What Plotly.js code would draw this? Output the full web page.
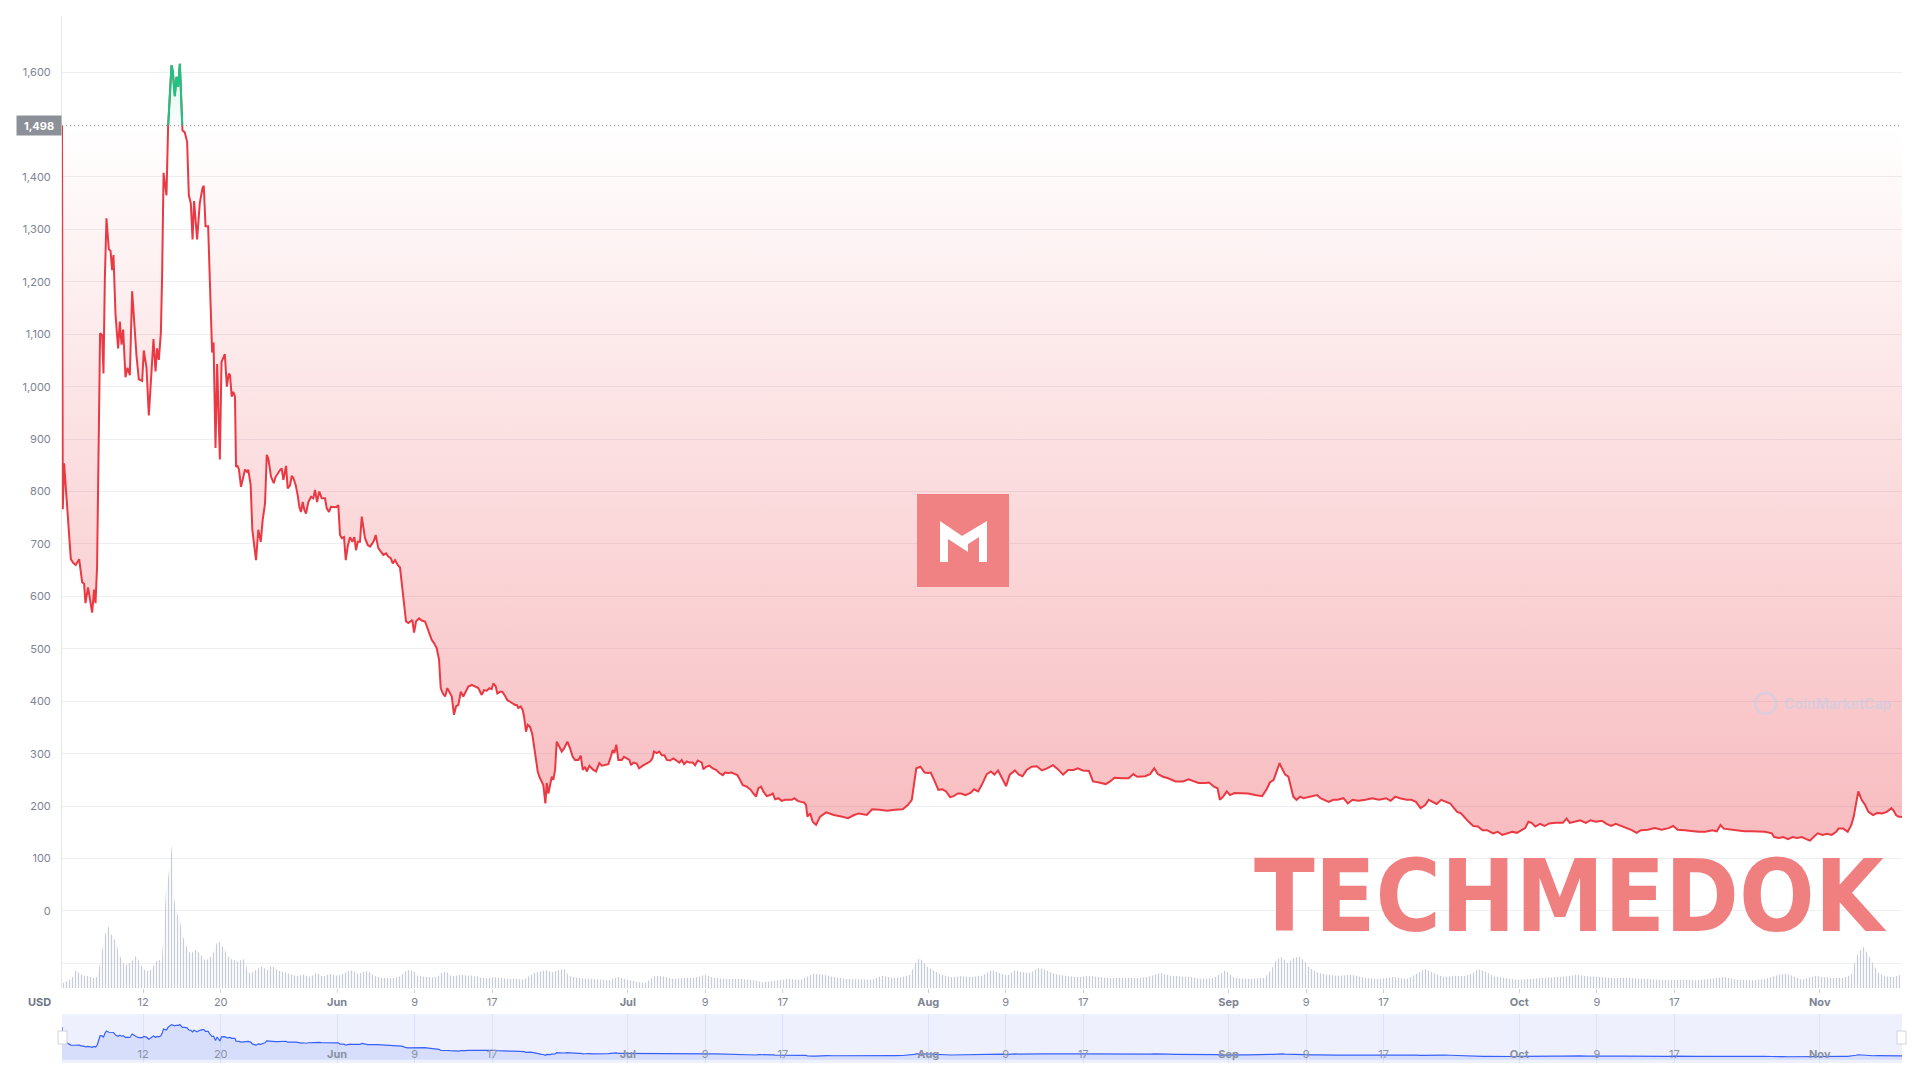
<!DOCTYPE html>
<html>
<head>
<meta charset="utf-8">
<script src="https://cdn.plot.ly/plotly-3.0.1.min.js"></script>
<style>
html,body{margin:0;padding:0;background:#ffffff;}
#chart{width:1920px;height:1080px;}
</style>
</head>
<body>
<div id="chart"></div>
<script>
// ---------------- DATA ----------------
const seriesStart = [2021, 4, 1]; // day 0 = 1 May 2021 (UTC)
const refPrice = 1498;            // reference (open) price shown in the tag

// days since 1 May, price in USD
const priceDays = [
 2.62,2.70,2.84,3.08,3.53,3.77,4.04,4.39,4.70,4.90,
 5.04,5.31,5.56,5.73,5.93,6.08,6.24,6.42,6.55,6.76,
 6.90,7.04,7.21,7.45,7.63,7.79,7.93,8.14,8.41,8.59,
 8.76,8.93,9.17,9.38,9.62,9.86,10.06,10.31,10.55,10.89,
 11.06,11.34,11.58,11.86,12.06,12.27,12.43,12.61,12.82,12.95,
 13.10,13.40,13.57,13.92,14.05,14.26,14.44,14.60,14.78,15.05,
 15.29,15.53,15.71,15.91,16.09,16.25,16.56,16.84,17.12,17.25,
 17.43,17.70,17.87,18.11,18.26,18.46,18.63,18.91,19.08,19.42,
 19.63,19.83,19.96,20.13,20.30,20.47,20.58,20.71,20.89,21.09,
 21.33,21.51,21.68,21.85,22.09,22.26,22.47,22.64,22.88,23.13,
 23.33,23.57,23.75,23.91,24.19,24.47,24.67,24.88,25.12,25.29,
 25.46,25.74,25.91,26.15,26.33,26.49,26.74,26.94,27.11,27.28,
 27.46,27.63,27.80,28.04,28.32,28.55,28.73,28.94,29.17,29.42,
 29.76,29.94,30.17,30.38,30.62,30.90,31.13,31.31,31.49,31.72,
 31.90,32.10,32.34,32.58,32.79,32.96,33.14,33.37,33.55,33.71,
 33.89,34.17,34.41,34.64,34.82,34.99,35.26,35.54,35.78,36.06,
 36.29,36.54,36.75,36.99,37.26,37.50,37.68,37.91,38.12,38.36,
 38.53,38.77,38.95,39.15,39.46,39.74,40.08,40.42,40.77,41.04,
 41.29,41.53,41.70,41.91,42.15,42.38,42.66,42.84,43.07,43.28,
 43.52,43.77,44.03,44.28,44.55,44.90,45.24,45.58,45.93,46.17,
 46.45,46.72,46.96,47.13,47.38,47.54,47.82,48.06,48.34,48.58,
 48.85,49.13,49.37,49.55,49.71,49.96,50.16,50.30,50.50,50.68,
 50.92,51.16,51.36,51.54,51.71,51.88,52.13,52.29,52.50,52.64,
 52.81,52.98,53.16,53.32,53.50,53.67,53.94,54.19,54.43,54.77,
 55.05,55.32,55.56,55.90,56.15,56.36,56.59,56.77,57.04,57.39,
 57.73,58.07,58.32,58.66,59.00,59.25,59.45,59.62,59.82,60.03,
 60.38,60.62,60.90,61.17,61.34,61.58,61.93,62.17,62.55,62.96,
 63.30,63.54,63.71,63.99,64.26,64.51,64.78,65.03,65.37,65.71,
 66.06,66.33,66.57,66.81,67.09,67.36,67.71,67.95,68.22,68.46,
 68.64,68.80,69.08,69.42,69.77,70.12,70.45,70.80,71.04,71.38,
 71.73,72.07,72.31,72.59,72.87,73.28,73.69,73.96,74.24,74.48,
 74.76,74.99,75.34,75.69,75.96,76.20,76.54,76.89,77.23,77.57,
 77.93,78.19,78.54,78.88,79.19,79.40,79.54,79.82,80.09,80.43,
 80.67,80.85,81.47,82.26,83.04,83.73,84.35,84.87,85.67,86.21,
 87.00,87.78,88.57,89.37,89.90,90.31,90.58,90.78,91.21,91.63,
 91.99,92.26,92.68,93.05,93.47,93.85,94.26,94.63,95.06,95.42,
 95.84,96.37,96.74,97.15,97.52,98.05,98.47,98.84,99.22,99.63,
 100.04,100.42,100.95,101.37,101.73,102.16,102.68,103.21,103.74,104.27,
 104.89,105.41,105.92,106.44,107.01,107.43,107.96,108.59,109.01,109.64,
 110.32,110.78,111.22,112.02,112.69,113.17,113.58,114.38,114.90,115.32,
 115.70,116.23,116.76,117.54,118.31,118.86,119.38,119.91,120.54,120.99,
 121.49,121.86,122.10,122.44,122.81,123.14,123.61,124.32,125.03,125.74,
 126.46,126.93,127.26,127.65,127.98,128.26,128.50,128.84,129.17,129.44,
 129.68,130.01,130.38,130.72,131.20,131.67,132.14,132.48,132.86,133.33,
 133.80,134.27,134.85,135.31,135.79,136.41,137.12,137.83,138.53,139.26,
 139.72,140.20,140.67,141.38,141.86,142.33,142.81,143.28,143.65,143.99,
 144.47,144.93,145.41,145.88,146.26,146.59,146.98,147.31,147.78,148.25,
 148.73,149.20,149.68,150.29,150.76,151.24,151.71,152.28,152.75,153.23,
 153.60,153.94,154.27,154.65,155.13,155.60,156.08,156.78,157.49,157.88,
 158.21,158.68,159.30,159.87,160.35,160.91,161.52,162.00,162.47,162.95,
 163.57,164.14,164.61,165.09,165.56,166.26,166.97,167.69,168.40,168.87,
 169.35,170.06,170.77,171.49,172.19,172.91,173.38,173.76,174.09,174.80,
 175.51,176.22,176.94,177.65,178.35,179.06,179.30,179.77,180.25,180.72,
 181.20,181.68,182.15,182.61,183.00,183.47,183.80,184.28,184.75,185.23,
 185.70,185.94,186.42,186.89,187.26,187.51,187.74,187.98,188.32,188.69,
 189.02,189.50,189.97,190.45,190.92,191.40,191.64,191.87,192.11,192.49
];
const priceValues = [
 1498,766,854,788,671,664,660,671,627,624,
 587,617,587,569,613,587,657,912,1102,1098,
 1025,1204,1321,1262,1259,1222,1251,1138,1073,1124,
 1080,1109,1018,1036,1022,1182,1117,1058,1014,1011,
 1069,1036,945,1022,1091,1029,1073,1051,1102,1211,
 1408,1365,1496,1613,1602,1554,1591,1572,1616,1489,
 1485,1467,1365,1350,1281,1354,1281,1350,1379,1383,
 1306,1306,1189,1065,1084,883,1043,861,1047,1062,
 1000,1025,1022,981,990,981,847,850,841,809,
 828,842,838,841,812,727,695,669,727,704,
 746,777,870,863,828,816,828,835,841,844,
 822,849,806,812,830,826,812,793,771,761,
 780,765,758,780,790,787,803,780,800,787,
 787,768,761,771,770,770,774,717,711,713,
 669,695,713,704,713,688,704,704,752,733,
 711,698,695,701,707,717,692,685,679,682,
 676,673,663,669,660,655,625,590,552,549,
 552,555,531,552,558,554,552,533,517,510,
 501,479,425,415,409,425,415,409,374,390,
 393,418,409,418,428,431,428,425,412,421,
 420,425,423,434,428,415,418,418,410,402,
 399,396,393,393,387,390,383,371,342,355,
 351,336,313,285,266,256,247,240,205,244,
 224,237,256,250,269,323,313,304,310,323,
 310,294,288,288,296,269,275,266,277,270,
 266,282,277,278,280,294,307,301,317,288,
 288,294,291,288,278,283,281,272,277,281,
 285,291,304,301,304,297,297,288,287,291,
 287,283,288,280,285,283,283,278,287,285,
 283,270,275,277,272,269,263,259,264,263,
 264,261,259,250,240,237,231,224,218,234,
 237,228,219,221,224,213,215,210,212,212,
 212,215,210,208,207,202,180,186,170,164,
 174,180,188,183,180,177,183,186,183,194,
 193,191,193,194,202,212,247,272,275,264,
 263,264,247,231,232,228,217,219,224,224,
 221,225,232,228,240,261,266,260,268,253,
 238,260,268,260,257,269,275,276,268,272,
 278,270,260,269,269,272,268,267,247,245,
 242,247,254,253,253,261,256,257,261,272,
 261,256,253,247,247,251,247,244,244,245,
 237,234,212,218,228,221,225,224,224,221,
 219,232,245,250,269,282,272,260,256,234,
 218,212,218,215,217,219,221,215,212,208,
 212,212,215,205,212,210,212,215,212,215,
 210,218,215,212,212,208,196,202,212,208,
 204,212,208,205,196,189,186,179,170,162,
 161,154,154,148,151,145,148,151,149,154,
 158,170,168,161,166,162,167,168,168,176,
 168,170,173,168,173,170,172,166,162,166,
 162,158,154,149,154,155,158,155,158,162,
 155,154,152,151,151,154,152,164,157,155,
 154,152,152,151,151,148,141,139,141,137,
 141,139,141,137,134,143,148,145,147,145,
 151,157,157,151,164,180,205,228,212,202,
 189,183,187,186,189,196,191,183,180,179
];

// trading volume (relative units), days since 1 May
const volumeDays = [
 2.59,3.10,3.62,4.07,4.41,4.82,5.34,5.85,6.27,6.54,
 6.78,7.06,7.40,7.64,7.92,8.19,8.43,8.78,9.12,9.40,
 9.71,9.98,10.26,10.50,10.84,11.19,11.53,11.88,12.22,12.56,
 12.91,13.15,13.35,13.53,13.69,13.84,14.01,14.18,14.39,14.59,
 14.80,15.08,15.35,15.59,15.90,16.17,16.45,16.73,17.04,17.38,
 17.72,18.07,18.31,18.58,18.85,19.13,19.37,19.62,19.89,20.16,
 20.44,20.71,20.99,21.27,21.51,21.74,22.09,22.43,22.78,23.13,
 23.47,23.81,24.16,24.50,24.84,25.19,25.53,25.87,26.22,26.56,
 26.90,27.25,27.59,27.94,28.29,28.63,28.97,29.32,29.66,30.00,
 30.35,30.69,31.03,31.38,31.72,32.06,32.41,32.75,33.10,33.44,
 33.79,34.13,34.48,34.82,35.16,35.51,35.85,36.19,36.54,36.88,
 37.22,37.57,37.91,38.26,38.61,38.95,39.29,39.64,39.98,40.32,
 40.67,41.01,41.35,41.70,42.04,42.38,42.73,43.07,43.42,43.77,
 44.11,44.45,44.80,45.14,45.48,45.83,46.17,46.51,46.86,47.20,
 47.54,47.89,48.23,48.57,48.93,49.27,49.61,49.96,50.30,50.64,
 50.99,51.33,51.67,52.51,53.29,53.93,54.46,54.98,55.93,56.99,
 58.04,59.09,60.04,60.67,61.72,62.78,63.83,64.62,65.68,66.73,
 67.78,68.99,69.89,71.20,72.52,73.83,74.88,76.20,77.52,78.83,
 80.15,81.21,82.26,83.57,84.89,86.20,87.25,88.31,89.37,90.15,
 90.68,91.10,91.46,91.84,92.53,93.31,94.37,95.42,96.47,97.52,
 98.58,99.37,100.16,100.95,101.73,102.53,103.32,103.95,104.63,105.43,
 106.48,107.53,108.59,109.64,110.69,111.74,112.80,113.85,114.90,115.95,
 117.00,118.06,119.11,120.06,121.49,122.67,123.61,125.27,126.70,127.41,
 127.88,128.50,129.07,129.78,130.25,130.87,131.35,132.15,133.10,134.27,
 135.70,137.12,138.55,139.96,141.38,142.57,143.28,143.99,145.17,146.36,
 147.31,148.25,148.73,149.44,150.38,151.56,152.75,153.94,155.13,156.55,
 157.97,158.92,159.87,161.29,162.71,164.14,165.56,166.97,168.40,169.82,
 171.24,172.66,174.09,175.51,176.94,178.35,179.77,180.48,181.20,182.15,
 183.57,184.99,186.42,187.26,187.74,188.07,188.55,189.02,189.50,189.97,
 190.69,191.64,192.35
];
const volumeValues = [
 4.3,6.7,9.3,18.3,14.3,12.3,11.7,10,11,25,
 40,53.3,61.7,55,50,46.7,36.7,27.7,21.7,24.3,
 25.7,28.3,32.3,28.3,21.7,17.7,16.7,19,25,29,
 25.7,61.7,98.3,106.7,120,127.7,146,90,78.3,71.7,
 66.7,51.7,43.3,38.3,34.3,36.7,38.3,35.7,31.7,27.7,
 29,32.3,36.7,45,46.3,41.7,41,31.7,31,28.3,
 27.7,26.3,27.7,28.3,29,16.7,14.3,16.7,19,21.7,
 20,17.7,21.7,21,17.7,16.7,15.7,15,13.3,12.3,
 11.7,12.7,13.3,11.7,11,14.3,15,12.3,11.7,13,
 14.3,13.3,12.3,13.3,15,16.7,17.7,16.7,14.3,15,
 16.3,16.7,15,12.3,11,10.3,10,9.7,9.7,10,
 11,11.7,15.7,17.7,17.7,16.7,12.3,11.7,11.7,11,
 10.7,11,10.7,15,16,15.7,12.3,11.7,12.7,13.3,
 13,12.3,12.7,11.7,11.7,10.3,10.3,9.7,10.3,11,
 10.3,10,9.3,9.7,9,9.3,9,8.3,8.3,11,
 13.3,15,15.7,17.7,15.7,18.3,19,11.7,10,9,
 8.3,7.7,11,9,6.7,5,12.3,11.7,9,10,
 10,13.3,10,9,9,8.3,5.7,7.7,9,8.3,
 14.3,13.3,11,9,9,8.3,12.3,10,11,13.3,
 25,30,26.7,21.7,17.7,13.3,11,11.7,11,12.3,
 17.7,15,12.3,17.7,15.7,15,20,19,15.7,13.3,
 11.7,11,12.3,11,10,10,10,10,11.7,15,
 12.3,11.7,11,9,10,17.7,10,9,10,18.3,
 27.7,31,25,30,31.7,26.7,20,15.7,13.3,12.3,
 13.3,10,9,11,9,15,19,15.7,11,12.3,
 11.7,15,19,16.7,11.7,10,8.3,9,10,11,
 11.7,13.3,11.7,11,10,10,9,8.3,7.7,8.3,
 7.7,9,11,8.3,7.7,9,13.3,14.3,12.3,8.3,
 12.3,10,10,13.3,30,36.7,41,33.3,25,15.7,
 11.7,11,13.3
];

const priceTicks = [-100,0,100,200,300,400,500,600,700,800,900,1000,1100,1200,1300,1400,1500,1600].filter(v => v !== 1500);
const dateTickVals = ['2021-05-12','2021-05-20','2021-06-01','2021-06-09','2021-06-17',
  '2021-07-01','2021-07-09','2021-07-17','2021-08-01','2021-08-09','2021-08-17',
  '2021-09-01','2021-09-09','2021-09-17','2021-10-01','2021-10-09','2021-10-17','2021-11-01'];
const dateTickText = ['12','20','Jun','9','17','Jul','9','17','Aug','9','17','Sep','9','17','Oct','9','17','Nov'];

// ---------------- HELPERS ----------------
const DAY = 86400000;
const base = Date.UTC(seriesStart[0], seriesStart[1], seriesStart[2]);
function toDate(d){ return new Date(base + d*DAY).toISOString().slice(0,19).replace('T',' '); }
const priceX = priceDays.map(toDate);
const volX = volumeDays.map(toDate);
const xRange = [priceX[0], priceX[priceX.length-1]];

const W = 1920, H = 1080;
const M = {l:62, r:18, t:16, b:17};
const plotW = W - M.l - M.r, plotH = H - M.t - M.b;
const px = x => (x - M.l)/plotW;          // pixel -> paper x
const py = y => (H - M.b - y)/plotH;      // pixel -> paper y

const yRange = [-147, 1707];
const mainDom = [py(988), 1];
const navDom = [0, py(1014)];
const greenLow = mainDom[0] + (refPrice - yRange[0])/(yRange[1]-yRange[0])*(mainDom[1]-mainDom[0]);

const tickFont = {family:'Inter, "Noto Sans", sans-serif', size:11, color:'#7d8493'};
const boldText = dateTickText.map(t => /^[0-9]+$/.test(t) ? t : '<b>'+t+'</b>');
const priceTickText = priceTicks.map(v => v < 0 ? '' : v.toLocaleString('en-US'));

const RED = '#ea3943', GREEN = '#16c784', BLUE = '#3861fb';

// ---------------- TRACES ----------------
const traces = [
  { // reference price dotted line (also fill baseline)
    x: xRange, y: [refPrice, refPrice], xaxis:'x', yaxis:'y',
    mode:'lines', line:{color:'#9fa5ae', width:1.2, dash:'1px,3px'}, hoverinfo:'skip'
  },
  { // price (below reference): red line, red gradient fill up to the reference
    x: priceX, y: priceValues, xaxis:'x', yaxis:'y',
    mode:'lines', line:{color:RED, width:2},
    fill:'tonexty',
    fillgradient:{type:'vertical', start:130, stop:refPrice,
      colorscale:[[0,'rgba(234,57,67,0.34)'],[0.55,'rgba(234,57,67,0.16)'],[1,'rgba(234,57,67,0.0)']]},
    hoverinfo:'skip'
  },
  { // volume
    x: volX, y: volumeValues, xaxis:'x', yaxis:'y2',
    mode:'lines', line:{width:0, color:'rgba(0,0,0,0)'},
    fill:'tozeroy', fillcolor:'rgba(0,0,0,0)',
    fillpattern:{shape:'|', size:3, solidity:0.42, fgcolor:'#c8ccd4', bgcolor:'rgba(255,255,255,0)', fgopacity:1},
    hoverinfo:'skip'
  },
  { // baseline for the green part (clipped subplot above the reference)
    x: xRange, y: [refPrice, refPrice], xaxis:'x', yaxis:'y4',
    mode:'lines', line:{width:0, color:'rgba(0,0,0,0)'}, hoverinfo:'skip'
  },
  { // price above reference -> green
    x: priceX, y: priceValues, xaxis:'x', yaxis:'y4',
    mode:'lines', line:{color:GREEN, width:2},
    fill:'tonexty',
    fillgradient:{type:'vertical', start:refPrice, stop:1620,
      colorscale:[[0,'rgba(22,199,132,0.02)'],[1,'rgba(22,199,132,0.16)']]},
    hoverinfo:'skip'
  },
  { // navigator
    x: priceX, y: priceValues, xaxis:'x2', yaxis:'y3',
    mode:'lines', line:{color:BLUE, width:1.2},
    fill:'tozeroy', fillcolor:'rgba(56,97,251,0.13)', hoverinfo:'skip'
  }
];

// ---------------- DECORATION ----------------
function pathFromPx(pts){
  return 'M ' + pts.map(p => px(p[0]).toFixed(5)+','+py(p[1]).toFixed(5)).join(' L ') + ' Z';
}

const shapes = [
  { // navigator background
    type:'rect', xref:'x2 domain', yref:'y3 domain', x0:0, x1:1, y0:0, y1:1,
    fillcolor:'#eef1fd', line:{width:0}, layer:'below'
  },
  // navigator handles
  {type:'rect', xref:'paper', yref:'paper', x0:px(58), x1:px(67), y0:py(1044), y1:py(1031),
   fillcolor:'#ffffff', line:{color:'#cfd3db', width:1}},
  {type:'rect', xref:'paper', yref:'paper', x0:px(1897), x1:px(1906), y0:py(1044), y1:py(1031),
   fillcolor:'#ffffff', line:{color:'#cfd3db', width:1}},
  // logo square
  {type:'rect', xref:'paper', yref:'paper', x0:px(917), x1:px(1009), y0:py(587), y1:py(494),
   fillcolor:'#f08284', line:{width:0}},
  // logo "M"
  {type:'path', xref:'paper', yref:'paper', fillcolor:'#ffffff', line:{width:0},
   path: pathFromPx([[940,521],[968,540],[968,552],[948,539],[948,562],[940,562]])},
  {type:'path', xref:'paper', yref:'paper', fillcolor:'#ffffff', line:{width:0},
   path: pathFromPx([[987,521],[987,562],[979,562],[979,537],[962,548],[962,536]])},
  // CoinMarketCap watermark circle
  {type:'circle', xref:'paper', yref:'paper', x0:px(1755), x1:px(1776), y0:py(714), y1:py(693),
   line:{color:'rgba(196,208,232,0.6)', width:2.5}, fillcolor:'rgba(0,0,0,0)'}
];

const annotations = [
  { // reference price tag
    xref:'paper', yref:'y', x:0, y:refPrice, xanchor:'right', yanchor:'middle',
    text:'<b>'+refPrice.toLocaleString('en-US')+'</b>', showarrow:false,
    font:{family:'Inter, sans-serif', size:11, color:'#ffffff'},
    bgcolor:'#8c9199', width:40, height:15, borderpad:2
  },
  { // currency label
    xref:'paper', yref:'paper', x:px(39), y:py(1002), xanchor:'center', yanchor:'middle',
    text:'<b>USD</b>', showarrow:false, font:{family:'Inter, sans-serif', size:11, color:'#6f7685'}
  },
  { // CoinMarketCap watermark
    xref:'paper', yref:'paper', x:px(1782), y:py(704), xanchor:'left', yanchor:'middle',
    text:'<b>CoinMarketCap</b>', showarrow:false,
    font:{family:'Inter, sans-serif', size:14, color:'rgba(196,208,232,0.6)'}
  },
  { // TECHMEDOK watermark
    xref:'paper', yref:'paper', x:px(1570), y:py(896), xanchor:'center', yanchor:'middle',
    text:'<b>TECHMEDOK</b>', showarrow:false,
    font:{family:'"DejaVu Sans Condensed", sans-serif', size:99, color:'#f07f80'}
  }
];

// ---------------- LAYOUT ----------------
const layout = {
  width:W, height:H,
  margin:M,
  paper_bgcolor:'#ffffff', plot_bgcolor:'rgba(0,0,0,0)',
  showlegend:false, hovermode:false,
  xaxis:{
    domain:[0,1], anchor:'y', type:'date', range:xRange,
    showgrid:false, zeroline:false, showline:false,
    ticks:'outside', ticklen:4, tickcolor:'#cfd3da', tickwidth:1,
    tickmode:'array', tickvals:dateTickVals, ticktext:boldText,
    tickfont:tickFont, fixedrange:true
  },
  yaxis:{
    domain:mainDom, anchor:'x', range:yRange,
    tickmode:'array', tickvals:priceTicks, ticktext:priceTickText,
    showgrid:true, gridcolor:'#edeff2', gridwidth:1, zeroline:false,
    showline:true, linecolor:'#e4e6ea', linewidth:1, ticks:'',
    ticklabelstandoff:8, tickfont:tickFont, fixedrange:true
  },
  yaxis2:{
    overlaying:'y', domain:mainDom, anchor:'x', range:[0, 972],
    visible:false, fixedrange:true
  },
  yaxis4:{
    domain:[greenLow, 1], anchor:'x', range:[refPrice, yRange[1]],
    visible:false, fixedrange:true
  },
  xaxis2:{
    domain:[0,1], anchor:'y3', type:'date', range:xRange,
    showgrid:true, gridcolor:'rgba(56,97,251,0.10)', zeroline:false, showline:false,
    ticks:'', tickmode:'array', tickvals:dateTickVals, ticktext:boldText,
    ticklabelposition:'inside', tickfont:{family:'Inter, sans-serif', size:11, color:'#8b92a2'},
    fixedrange:true
  },
  yaxis3:{
    domain:navDom, anchor:'x2', range:[-150, 2100], visible:false, fixedrange:true
  },
  shapes:shapes,
  annotations:annotations
};

Plotly.newPlot('chart', traces, layout, {staticPlot:true, displayModeBar:false});
</script>
</body>
</html>
